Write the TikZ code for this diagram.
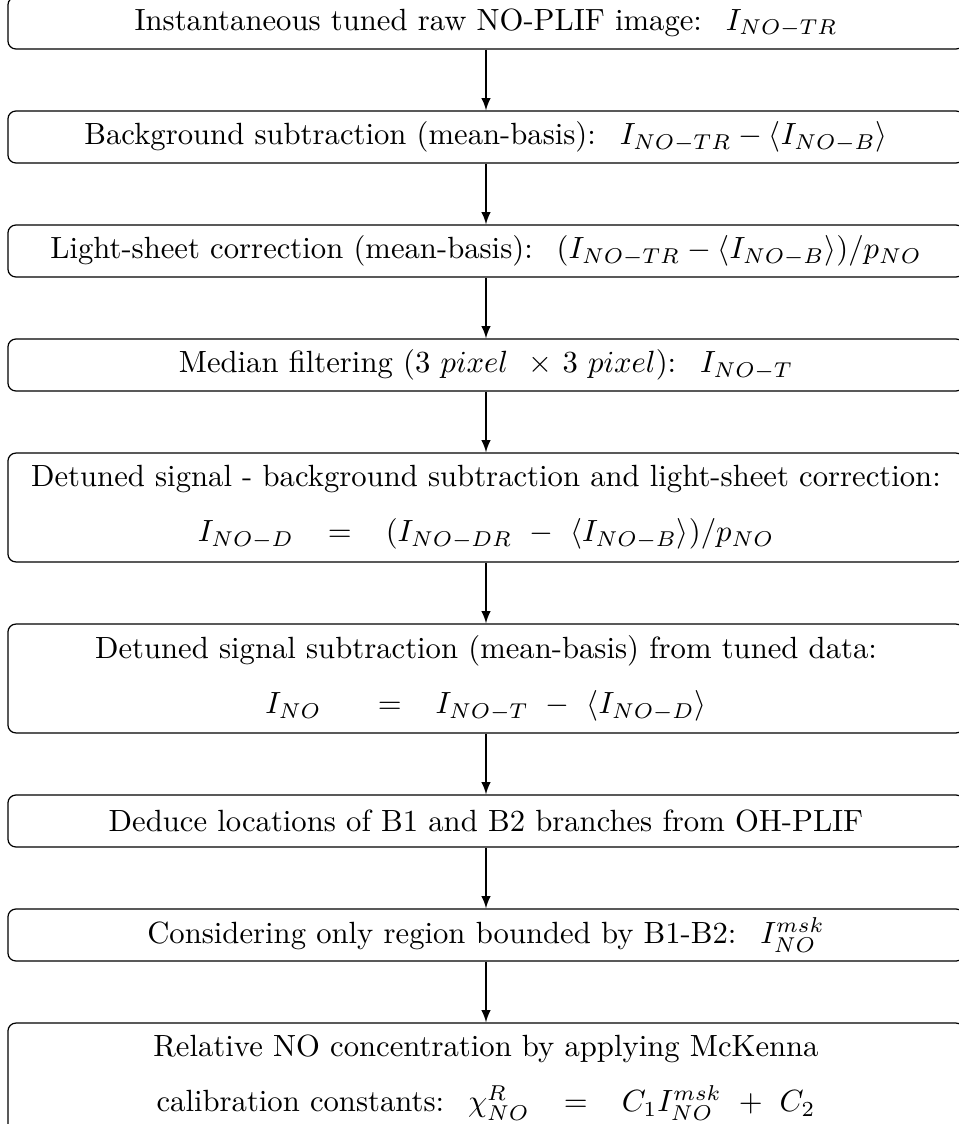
\documentclass[tikz,border=0pt]{standalone}
\usepackage{amsmath}
\usetikzlibrary{arrows}

\tikzset{
    stepnode/.style={draw, rounded corners=2.6pt, minimum width=311.7pt,
        minimum height=16.95pt, inner sep=0pt, align=center},
    twoline/.style={stepnode, minimum height=35.5pt},
    flow/.style={->, >=latex}
}

\begin{document}
\begin{tikzpicture}[x=0.326pt, y=-0.326pt]
    % Frame
    \useasboundingbox (0,0) rectangle (958,1124);

    % Steps
    \node[stepnode] (raw) at (486,23) {Instantaneous tuned raw NO-PLIF image: \ $I_{NO-TR}$};
    \node[stepnode] (bkg) at (486,137) {Background subtraction (mean-basis): \ $I_{NO-TR} - \langle I_{NO-B}\rangle$};
    \node[stepnode] (sheet) at (486,251) {Light-sheet correction (mean-basis): \ $(I_{NO-TR} - \langle I_{NO-B}\rangle)/p_{NO}$};
    \node[stepnode] (median) at (486,365) {Median filtering (3 $pixel$ \ $\times$ 3 $pixel$): \ $I_{NO-T}$};
    \node[twoline] (detuned) at (486,507.5) {Detuned signal - background subtraction and light-sheet correction:\\[6pt]
        $I_{NO-D} \;\;\; = \;\;\; (I_{NO-DR} \ - \ \langle I_{NO-B}\rangle)/p_{NO}$};
    \node[twoline] (subtr) at (486,678.5) {Detuned signal subtraction (mean-basis) from tuned data:\\[6pt]
        $I_{NO} \quad\;\; = \;\;\; I_{NO-T} \ - \ \langle I_{NO-D}\rangle$};
    \node[stepnode] (branch) at (486,821) {Deduce locations of B1 and B2 branches from OH-PLIF};
    \node[stepnode] (mask) at (486,935) {Considering only region bounded by B1-B2: \ $I^{msk}_{NO}$};
    \node[twoline] (calib) at (486,1077.5) {Relative NO concentration by applying McKenna\\[6pt]
        calibration constants: \ $\chi^R_{NO} \;\;\; = \;\;\; C_1I^{msk}_{NO} \ + \ C_2$};

    % Arrows
    \foreach \a/\b in {raw/bkg, bkg/sheet, sheet/median, median/detuned,
        detuned/subtr, subtr/branch, branch/mask, mask/calib} {
        \draw[flow] (\a) -- (\b);
    }
\end{tikzpicture}
\end{document}
